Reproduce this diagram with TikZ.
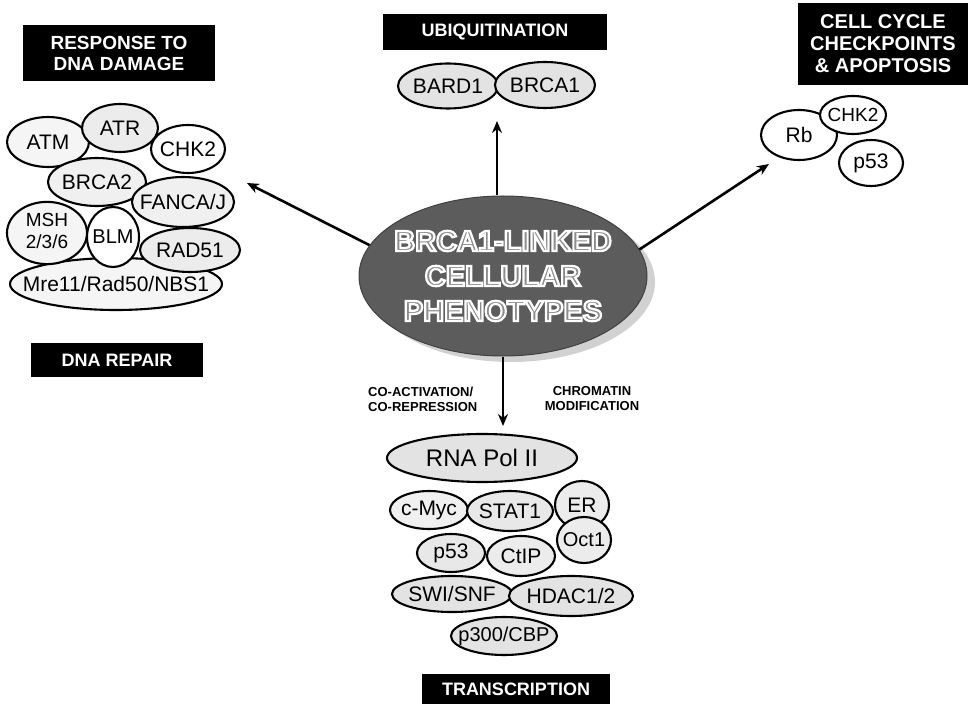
\documentclass[tikz,border=0pt]{standalone}
\usepackage{fontspec}
\setmainfont{Liberation Sans}
\usetikzlibrary{shapes.geometric,arrows.meta}
\definecolor{ctrgray}{gray}{0.36}
\definecolor{lettergray}{gray}{0.55}
\definecolor{shadowgray}{gray}{0.82}
\newcommand{\outlinetext}[1]{\special{pdf:literal direct 2 Tr 2.2 w 1 1 1 RG}#1\special{pdf:literal direct 0 Tr}}
\newcommand{\pz}[1]{\makebox[0pt]{#1}}
\tikzset{
  prot/.style={ellipse, draw=black, line width=2.1pt, inner sep=0pt, fill=gray!18,
    font=\fontsize{21}{22}\selectfont},
  lbox/.style={rectangle, fill=black, text=white, inner sep=0pt, align=center,
    font=\bfseries\fontsize{18}{20}\selectfont},
  ctext/.style={align=center, inner sep=0pt, font=\bfseries\fontsize{29}{35}\selectfont},
  arr/.style={line width=2.6pt, -{Stealth[length=12pt,width=10pt]}},
  small/.style={inner sep=0pt, font=\bfseries\fontsize{13}{15}\selectfont}
}
\begin{document}
\begin{tikzpicture}[x=1pt,y=-1pt]
\useasboundingbox (0,0) rectangle (968,708);

% central ellipse
\node[ellipse, fill=shadowgray, minimum width=288pt, minimum height=160pt, inner sep=0pt] (shadow) at (511,282) {};
\node[ellipse, fill=ctrgray, draw=ctrgray!70!black, line width=1pt, minimum width=288pt, minimum height=160pt, inner sep=0pt] (ctr) at (503,276) {};
\node[ctext, text=lettergray] (ctrtext) at (ctr.center) {\outlinetext{BRCA1-LINKED}\\\outlinetext{CELLULAR}\\\outlinetext{PHENOTYPES}};

% ---------- left cluster: DNA damage / repair
\node[lbox, minimum width=192pt, minimum height=56pt, font=\bfseries\fontsize{19}{21}\selectfont] (resp) at (119,53) {RESPONSE TO\\DNA DAMAGE};
\node[prot, fill=gray!8, minimum width=212pt, minimum height=52pt] (mre) at (116,284) {\pz{Mre11/Rad50/NBS1}};
\node[prot, fill=gray!8, minimum width=82pt, minimum height=50pt] (atm) at (48,142) {\pz{ATM}};
\node[prot, fill=gray!15, minimum width=76pt, minimum height=48pt] (atr) at (120,128) {\pz{ATR}};
\node[prot, fill=white, minimum width=74pt, minimum height=48pt] (chk2a) at (188,149) {\pz{CHK2}};
\node[prot, fill=gray!12, minimum width=98pt, minimum height=48pt] (brca2) at (97,182) {\pz{BRCA2}};
\node[prot, fill=gray!12, minimum width=102pt, minimum height=50pt] (fanca) at (183,202) {\pz{FANCA/J}};
\node[prot, fill=gray!8, minimum width=80pt, minimum height=60pt, font=\fontsize{19}{22}\selectfont] (msh) at (47,233) {\pz{\begin{tabular}{@{}c@{}}MSH\\2/3/6\end{tabular}}};
\node[prot, fill=white, minimum width=52pt, minimum height=60pt, font=\fontsize{20}{21}\selectfont] (blm) at (113,237) {\pz{BLM}};
\node[prot, fill=gray!15, minimum width=100pt, minimum height=44pt] (rad51) at (190,250) {\pz{RAD51}};
\node[lbox, minimum width=172pt, minimum height=34pt] (repair) at (117,360) {DNA REPAIR};

% ---------- top: ubiquitination
\node[lbox, minimum width=224pt, minimum height=36pt] (ubiq) at (495,32) {UBIQUITINATION};
\node[prot, fill=gray!22, minimum width=100pt, minimum height=45pt] (bard1) at (448,86) {\pz{BARD1}};
\node[prot, fill=gray!22, minimum width=100pt, minimum height=46pt] (brca1) at (545,85) {\pz{BRCA1}};

% ---------- right: cell cycle
\node[lbox, minimum width=170pt, minimum height=82pt, font=\bfseries\fontsize{20}{22}\selectfont] (cell) at (883,44) {CELL CYCLE\\CHECKPOINTS\\\& APOPTOSIS};
\node[prot, fill=white, minimum width=76pt, minimum height=50pt] (rb) at (799,135) {\pz{Rb}};
\node[prot, fill=white, minimum width=66pt, minimum height=38pt, font=\fontsize{19}{20}\selectfont] (chk2b) at (853,115) {\pz{CHK2}};
\node[prot, fill=white, minimum width=64pt, minimum height=46pt] (p53b) at (871,163) {\pz{p53}};

% ---------- bottom: transcription
\node[prot, fill=gray!22, minimum width=190pt, minimum height=48pt, font=\fontsize{24}{25}\selectfont] (pol) at (482,458) {\pz{RNA Pol II}};
\node[prot, fill=gray!12, minimum width=78pt, minimum height=38pt] (myc) at (429,510) {\pz{c-Myc}};
\node[prot, fill=gray!18, minimum width=86pt, minimum height=40pt] (stat1) at (510,511) {\pz{STAT1}};
\node[prot, fill=gray!15, minimum width=54pt, minimum height=48pt] (er) at (582,505) {\pz{ER}};
\node[prot, fill=gray!18, minimum width=68pt, minimum height=38pt] (p53c) at (451,553) {\pz{p53}};
\node[prot, fill=gray!15, minimum width=68pt, minimum height=40pt] (ctip) at (521,556) {\pz{CtIP}};
\node[prot, fill=gray!15, minimum width=54pt, minimum height=46pt, font=\fontsize{20}{21}\selectfont] (oct1) at (584,540) {\pz{Oct1}};
\node[prot, fill=gray!22, minimum width=120pt, minimum height=36pt] (swi) at (452,594) {\pz{SWI/SNF}};
\node[prot, fill=gray!22, minimum width=124pt, minimum height=40pt] (hdac) at (571,596) {\pz{HDAC1/2}};
\node[prot, fill=gray!22, minimum width=106pt, minimum height=38pt, font=\fontsize{20}{21}\selectfont] (p300) at (504,636) {\pz{p300/CBP}};
\node[lbox, minimum width=188pt, minimum height=30pt] (trans) at (516,689) {TRANSCRIPTION};

% ---------- labels on the down arrow
\node[small, align=left, anchor=west] (coact) at (368,399) {CO-ACTIVATION/\\CO-REPRESSION};
\node[small, align=center] (chrom) at (592,399) {CHROMATIN\\MODIFICATION};

% ---------- arrows
\coordinate (lefttip) at (247,183);
\coordinate (righttip) at (769,164);
\coordinate (uptip) at (497,121);
\coordinate (downtip) at (503,426);
\draw[arr] (ctr.167) -- (lefttip);
\draw[arr] (ctr.11) -- (righttip);
\draw[arr] (ctr.north -| uptip) -- (uptip);
\draw[arr] (ctr.south -| downtip) -- (downtip);
\end{tikzpicture}
\end{document}
